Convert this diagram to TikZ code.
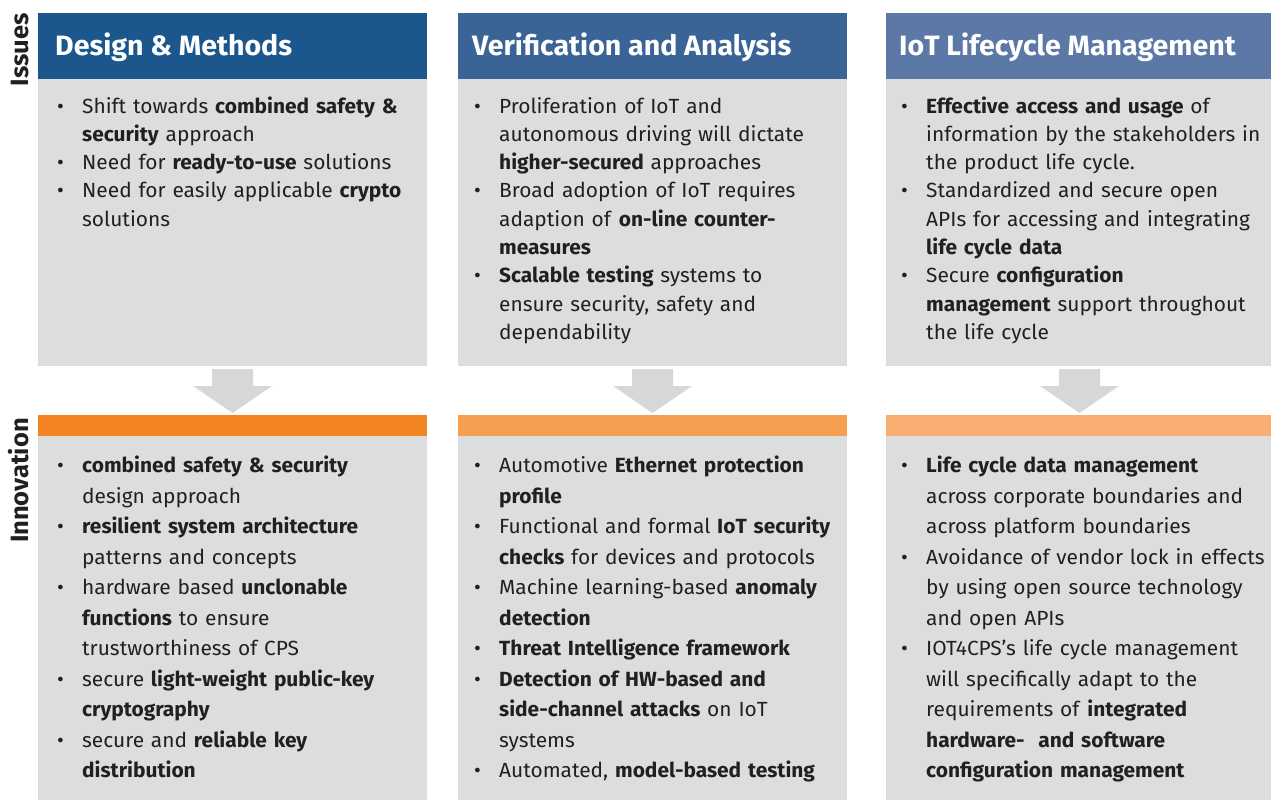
\documentclass[tikz,border=0pt]{standalone}
\usepackage{fontspec}
\setmainfont{Fira Sans}[FakeStretch=1.02]
\definecolor{hdA}{RGB}{27,86,141}
\definecolor{hdB}{RGB}{58,100,149}
\definecolor{hdC}{RGB}{91,120,166}
\definecolor{orA}{RGB}{242,132,36}
\definecolor{orB}{RGB}{245,160,80}
\definecolor{orC}{RGB}{248,174,112}
\definecolor{bodygray}{RGB}{220,221,223}
\definecolor{arrowgray}{RGB}{214,215,217}
\definecolor{ink}{RGB}{35,31,32}
% bullet items with hanging indent; \fitm opens the list, \itm continues it
\newcommand\fitm{\hangindent=25pt\hangafter=1\makebox[25pt][l]{\textbullet}}
\newcommand\itm{\par\noindent\fitm}
\begin{document}
\begin{tikzpicture}[x=1pt,y=-1pt,
  title/.style={anchor=base west,inner sep=0pt,text=white,
    font=\fontsize{28}{30}\selectfont\bfseries},
  upper/.style={anchor=base west,inner sep=0pt,text=ink,text width=420pt,align=left,
    font=\fontsize{20.5}{28.3}\selectfont},
  lower/.style={anchor=base west,inner sep=0pt,text=ink,text width=420pt,align=left,
    font=\fontsize{20.5}{30.5}\selectfont},
  side/.style={rotate=90,anchor=base east,inner sep=0pt,text=ink,
    font=\fontsize{25}{25}\selectfont\bfseries}]
\useasboundingbox (0,0) rectangle (1271,800);

% panels: header, issue body, innovation bar, innovation body
\fill[hdA] (38,13) rectangle (427,79);
\fill[hdB] (458,13) rectangle (847,79);
\fill[hdC] (886,13) rectangle (1271,79);
\fill[bodygray] (38,79) rectangle (427,366);
\fill[bodygray] (458,79) rectangle (847,366);
\fill[bodygray] (886,79) rectangle (1271,366);
\fill[orA] (38,415) rectangle (427,436);
\fill[orB] (458,415) rectangle (847,436);
\fill[orC] (886,415) rectangle (1271,436);
\fill[bodygray] (38,436) rectangle (427,800);
\fill[bodygray] (458,436) rectangle (847,800);
\fill[bodygray] (886,436) rectangle (1271,800);

% down arrows between issues and innovation
\foreach \cx in {232.5,652.5,1079.5}{
  \fill[arrowgray] (\cx-20.5,369) -- (\cx+20.5,369) -- (\cx+20.5,386) -- (\cx+39.5,386)
    -- (\cx,413) -- (\cx-39.5,386) -- (\cx-20.5,386) -- cycle;
}

% row labels
\node[side] (issues) at (28,13) {Issues};
\node[side] (innovation) at (28,418) {Innovation};

% titles
\node[title] (t1) at (55,56) {Design \& Methods};
\node[title] (t2) at (472,56) {Verification and Analysis};
\node[title] (t3) at (899,56) {IoT Lifecycle Management};

% issues
\node[upper] (i1) at (57,113) {%
\fitm Shift towards \textbf{combined safety \&}\newline\textbf{security} approach
\itm Need for \textbf{ready-to-use} solutions
\itm Need for easily applicable \textbf{crypto}\newline solutions\par};
\node[upper] (i2) at (474,113) {%
\fitm Proliferation of IoT and\newline autonomous driving will dictate\newline \textbf{higher-secured} approaches
\itm Broad adoption of IoT requires\newline adaption of \textbf{on-line counter-}\newline\textbf{measures}
\itm \textbf{Scalable testing} systems to\newline ensure security, safety and\newline dependability\par};
\node[upper] (i3) at (901,113) {%
\fitm \textbf{Effective access and usage} of\newline information by the stakeholders in\newline the product life cycle.
\itm Standardized and secure open\newline APIs for accessing and integrating\newline \textbf{life cycle data}
\itm Secure \textbf{configuration}\newline\textbf{management} support throughout\newline the life cycle\par};

% innovations
\node[lower] (n1) at (57,472.5) {%
\fitm \textbf{combined safety \& security}\newline design approach
\itm \textbf{resilient system architecture}\newline patterns and concepts
\itm hardware based \textbf{unclonable}\newline\textbf{functions} to ensure\newline trustworthiness of CPS
\itm secure \textbf{light-weight public-key}\newline\textbf{cryptography}
\itm secure and \textbf{reliable key}\newline\textbf{distribution}\par};
\node[lower] (n2) at (474,472.5) {%
\fitm Automotive \textbf{Ethernet protection}\newline\textbf{profile}
\itm Functional and formal \textbf{IoT security}\newline\textbf{checks} for devices and protocols
\itm Machine learning-based \textbf{anomaly}\newline\textbf{detection}
\itm \textbf{Threat Intelligence framework}
\itm \textbf{Detection of HW-based and}\newline\textbf{side-channel attacks} on IoT\newline systems
\itm Automated, \textbf{model-based testing}\par};
\node[lower] (n3) at (901,472.5) {%
\fitm \textbf{Life cycle data management}\newline across corporate boundaries and\newline across platform boundaries
\itm Avoidance of vendor lock in effects\newline by using open source technology\newline and open APIs
\itm IOT4CPS’s life cycle management\newline will specifically adapt to the\newline requirements of \textbf{integrated}\newline\textbf{hardware-\ \ and software}\newline\textbf{configuration management}\par};
\end{tikzpicture}
\end{document}
